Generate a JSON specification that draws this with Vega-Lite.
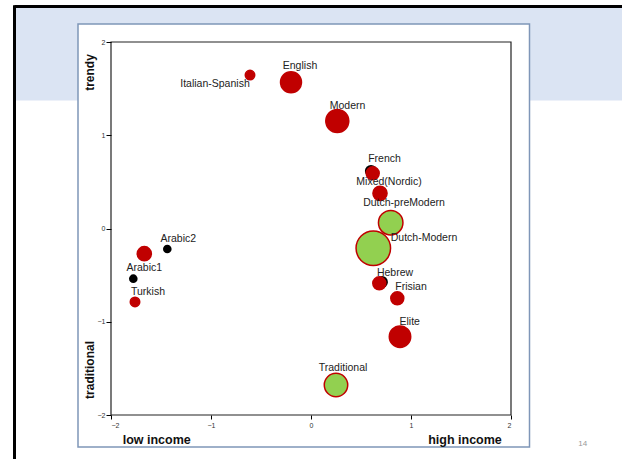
{
  "$schema": "https://vega.github.io/schema/vega-lite/v6.json",
  "width": 400,
  "height": 373,
  "autosize": "none",
  "padding": {"left": 111, "top": 42, "right": 111, "bottom": 44},
  "background": "white",
  "config": {"view": {"stroke": null}, "font": "Liberation Sans"},
  "datasets": {
    "pts": [
      {"label": "Italian-Spanish", "group": "A", "x": -0.61, "y": 1.646, "w": 9, "lx": -0.96, "ly": 1.55},
      {"label": "", "group": "C", "x": -0.22, "y": 1.614, "w": 12, "lx": null, "ly": null},
      {"label": "English", "group": "A", "x": -0.2, "y": 1.568, "w": 44, "lx": -0.11, "ly": 1.745},
      {"label": "Modern", "group": "A", "x": 0.263, "y": 1.153, "w": 53, "lx": 0.365, "ly": 1.317},
      {"label": "", "group": "C", "x": 0.6, "y": 0.616, "w": 15, "lx": null, "ly": null},
      {"label": "French", "group": "A", "x": 0.617, "y": 0.592, "w": 17, "lx": 0.735, "ly": 0.742},
      {"label": "Mixed(Nordic)", "group": "A", "x": 0.69, "y": 0.377, "w": 20, "lx": 0.78, "ly": 0.495},
      {"label": "Dutch-preModern", "group": "B", "x": 0.797, "y": 0.062, "w": 60, "lx": 0.93, "ly": 0.27},
      {"label": "Dutch-Modern", "group": "B", "x": 0.623, "y": -0.212, "w": 119, "lx": 1.13, "ly": -0.099},
      {"label": "", "group": "C", "x": 0.71, "y": -0.574, "w": 14, "lx": null, "ly": null},
      {"label": "Hebrew", "group": "A", "x": 0.683, "y": -0.588, "w": 17, "lx": 0.84, "ly": -0.474},
      {"label": "Frisian", "group": "A", "x": 0.863, "y": -0.749, "w": 17, "lx": 1.0, "ly": -0.624},
      {"label": "Elite", "group": "A", "x": 0.89, "y": -1.16, "w": 46, "lx": 0.987, "ly": -1.0},
      {"label": "Traditional", "group": "B", "x": 0.25, "y": -1.678, "w": 55, "lx": 0.32, "ly": -1.5},
      {"label": "Arabic2", "group": "C", "x": -1.437, "y": -0.22, "w": 7.4, "lx": -1.327, "ly": -0.113},
      {"label": "", "group": "A", "x": -1.667, "y": -0.27, "w": 20, "lx": null, "ly": null},
      {"label": "Arabic1", "group": "C", "x": -1.777, "y": -0.538, "w": 7.4, "lx": -1.667, "ly": -0.42},
      {"label": "Turkish", "group": "A", "x": -1.76, "y": -0.788, "w": 9, "lx": -1.63, "ly": -0.681}
    ]
  },
  "layer": [
    {
      "data": {"values": [{"x1": -2.95, "x2": 3.11, "y1": 2.369, "y2": 1.372}]},
      "mark": {"type": "rect", "fill": "#dbe4f3"},
      "encoding": {
        "x": {"field": "x1", "type": "quantitative", "scale": {"domain": [-2, 2], "nice": false, "zero": false},
          "axis": {"values": [-2, -1, 0, 1, 2], "format": "d", "domain": false, "grid": false, "title": null, "tickColor": "#000", "tickSize": 4, "labelFontSize": 7, "labelColor": "#333", "labelPadding": 2, "zindex": 1}},
        "x2": {"field": "x2"},
        "y": {"field": "y1", "type": "quantitative", "scale": {"domain": [-2, 2], "nice": false, "zero": false},
          "axis": {"values": [-2, -1, 0, 1, 2], "format": "d", "domain": false, "grid": false, "title": null, "tickColor": "#000", "tickSize": 5, "labelFontSize": 7, "labelColor": "#333", "labelPadding": 1, "zindex": 1}},
        "y2": {"field": "y2"}
      }
    },
    {
      "data": {"values": [{"x1": -2.965, "x2": 3.11, "y1": 2.381, "y2": 2.381}, {"x1": -2.965, "x2": -2.965, "y1": 2.395, "y2": -2.5}]},
      "mark": {"type": "rule", "color": "#000", "strokeWidth": 3},
      "encoding": {
        "x": {"field": "x1", "type": "quantitative"},
        "x2": {"field": "x2"},
        "y": {"field": "y1", "type": "quantitative"},
        "y2": {"field": "y2"}
      }
    },
    {
      "data": {"values": [{"x1": -2.33, "x2": 2.185, "y1": 2.193, "y2": -2.343}]},
      "mark": {"type": "rect", "fill": "white", "stroke": "#7f96b8", "strokeWidth": 1.5},
      "encoding": {
        "x": {"field": "x1", "type": "quantitative"},
        "x2": {"field": "x2"},
        "y": {"field": "y1", "type": "quantitative"},
        "y2": {"field": "y2"}
      }
    },
    {
      "data": {"values": [{"x1": -2, "x2": 2, "y1": 2, "y2": -2}]},
      "mark": {"type": "rect", "fill": "white", "fillOpacity": 0, "stroke": "#222", "strokeWidth": 1.2},
      "encoding": {
        "x": {"field": "x1", "type": "quantitative"},
        "x2": {"field": "x2"},
        "y": {"field": "y1", "type": "quantitative"},
        "y2": {"field": "y2"}
      }
    },
    {
      "data": {"name": "pts"},
      "transform": [{"filter": "datum.group === 'C'"}],
      "mark": {"type": "circle", "opacity": 1, "color": "#000"},
      "encoding": {
        "x": {"field": "x", "type": "quantitative"},
        "y": {"field": "y", "type": "quantitative"},
        "size": {"field": "w", "type": "quantitative", "scale": {"type": "linear", "domain": [0, 100], "range": [0, 1000], "zero": true}, "legend": null}
      }
    },
    {
      "data": {"name": "pts"},
      "transform": [{"filter": "datum.group !== 'C'"}],
      "mark": {"type": "circle", "opacity": 1, "stroke": "#c00000", "strokeWidth": 1.5},
      "encoding": {
        "x": {"field": "x", "type": "quantitative"},
        "y": {"field": "y", "type": "quantitative"},
        "size": {"field": "w", "type": "quantitative", "legend": null},
        "fill": {"field": "group", "type": "nominal", "scale": {"domain": ["A", "B"], "range": ["#c00000", "#92d050"]}, "legend": null}
      }
    },
    {
      "data": {"name": "pts"},
      "transform": [{"filter": "datum.label !== ''"}],
      "mark": {"type": "text", "fontSize": 10.5, "color": "#222", "align": "center", "baseline": "middle"},
      "encoding": {
        "x": {"field": "lx", "type": "quantitative"},
        "y": {"field": "ly", "type": "quantitative"},
        "text": {"field": "label"}
      }
    },
    {
      "data": {"values": [{"t": "trendy", "x": -2.21, "y": 1.673}, {"t": "traditional", "x": -2.21, "y": -1.517}]},
      "mark": {"type": "text", "fontSize": 12, "fontWeight": "bold", "color": "#111", "angle": 270, "align": "center", "baseline": "middle"},
      "encoding": {
        "x": {"field": "x", "type": "quantitative"},
        "y": {"field": "y", "type": "quantitative"},
        "text": {"field": "t"}
      }
    },
    {
      "data": {"values": [{"t": "low income", "x": -1.543, "y": -2.268}, {"t": "high income", "x": 1.54, "y": -2.268}]},
      "mark": {"type": "text", "fontSize": 12.5, "fontWeight": "bold", "color": "#111", "align": "center", "baseline": "middle"},
      "encoding": {
        "x": {"field": "x", "type": "quantitative"},
        "y": {"field": "y", "type": "quantitative"},
        "text": {"field": "t"}
      }
    },
    {
      "data": {"values": [{"t": "14", "x": 2.717, "y": -2.311}]},
      "mark": {"type": "text", "fontSize": 8, "color": "#999", "align": "center", "baseline": "middle"},
      "encoding": {
        "x": {"field": "x", "type": "quantitative"},
        "y": {"field": "y", "type": "quantitative"},
        "text": {"field": "t"}
      }
    }
  ]
}
